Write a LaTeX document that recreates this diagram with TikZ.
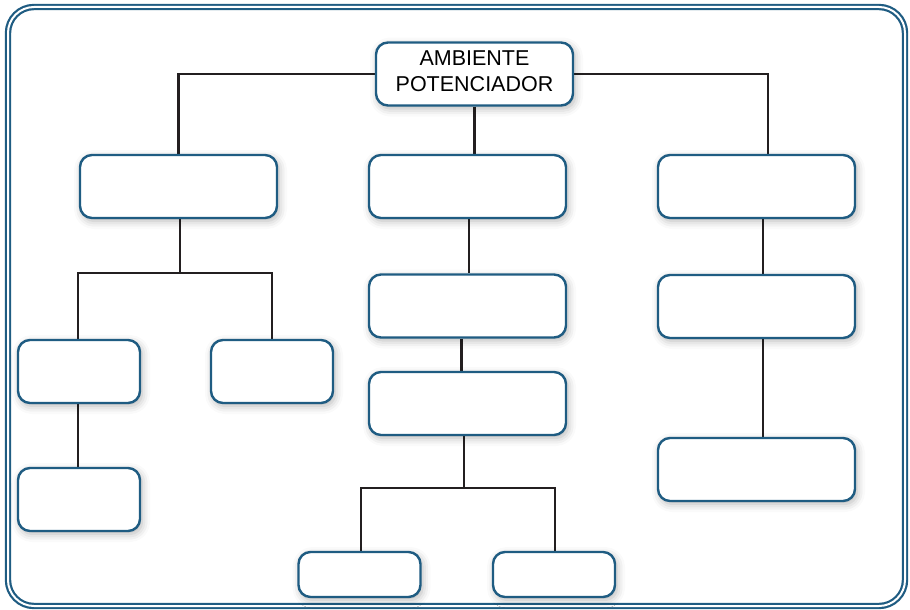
\documentclass[tikz,border=0pt]{standalone}
\usepackage{fontspec}
\setmainfont{Liberation Sans}
\usetikzlibrary{shadows.blur}
\definecolor{azulcaja}{RGB}{31,92,130}
\definecolor{linea}{RGB}{35,31,32}
\pgfdeclarelayer{fondo}
\pgfsetlayers{fondo,main}
\tikzset{
  caja/.style={draw=azulcaja, line width=2.4pt, rounded corners=12pt, fill=white,
    minimum width=197pt, minimum height=63pt, inner sep=0pt, align=center,
    font=\fontsize{21.5}{26}\selectfont,
    blur shadow={shadow xshift=2pt, shadow yshift=-3pt, shadow blur radius=8pt, shadow opacity=30}},
  cajita/.style={caja, minimum width=122pt},
  conector/.style={draw=linea, line width=2.8pt},
}

\begin{document}
\begin{tikzpicture}[x=1pt,y=-1pt]
  \useasboundingbox (0,0) rectangle (910,610);
  % marco doble
  \draw[azulcaja, line width=2.2pt, double=white, double distance=2pt, rounded corners=26pt]
    (8,7) rectangle (905,606);
  % cajas
  \node[caja] (ambiente) at (474.5,74)
    {\raisebox{1pt}[\height][\depth]{\begin{tabular}{@{}c@{}}AMBIENTE\\POTENCIADOR\end{tabular}}};
  \node[caja] (izq) at (178.5,186.5) {};
  \node[caja] (centro) at (467.5,186.5) {};
  \node[caja] (der) at (756.5,186.5) {};
  \node[cajita] (izqa) at (79,371.5) {};
  \node[cajita] (izqb) at (272,371.5) {};
  \node[cajita] (izqc) at (79,499.5) {};
  \node[caja] (centroa) at (467.5,306) {};
  \node[caja] (centrob) at (467.5,403.5) {};
  \node[cajita, minimum height=45pt] (centroc) at (359.5,574.5) {};
  \node[cajita, minimum height=45pt] (centrod) at (554,574.5) {};
  \node[caja] (dera) at (756.5,306.5) {};
  \node[caja] (derb) at (756.5,469.5) {};
  % nudos
  \coordinate (nudoizq) at (180,273);
  \coordinate (nudocentro) at (464,488);
  % conectores
  \begin{pgfonlayer}{fondo}
    \draw[conector] (ambiente.west) -| (izq.north);
    \draw[conector] (ambiente.east) -| ([xshift=11.5pt]der.north);
    \draw[conector] (ambiente.south) -- (ambiente.south |- centro.north);
    \draw[conector] (izq.south -| nudoizq) -- (nudoizq);
    \draw[conector] ([xshift=-1pt]izqa.north) |- (nudoizq) -| (izqb.north);
    \draw[conector] ([xshift=-1pt]izqa.south) -- ([xshift=-1pt]izqc.north);
    \draw[conector] ([xshift=1.5pt]centro.south) -- ([xshift=1.5pt]centroa.north);
    \draw[conector] ([xshift=-6pt]centroa.south) -- ([xshift=-6pt]centrob.north);
    \draw[conector] (centrob.south -| nudocentro) -- (nudocentro);
    \draw[conector] ([xshift=1.5pt]centroc.north) |- (nudocentro) -| ([xshift=1pt]centrod.north);
    \draw[conector] ([xshift=6.5pt]der.south) -- ([xshift=6.5pt]dera.north);
    \draw[conector] ([xshift=6.5pt]dera.south) -- ([xshift=6.5pt]derb.north);
  \end{pgfonlayer}
\end{tikzpicture}
\end{document}
